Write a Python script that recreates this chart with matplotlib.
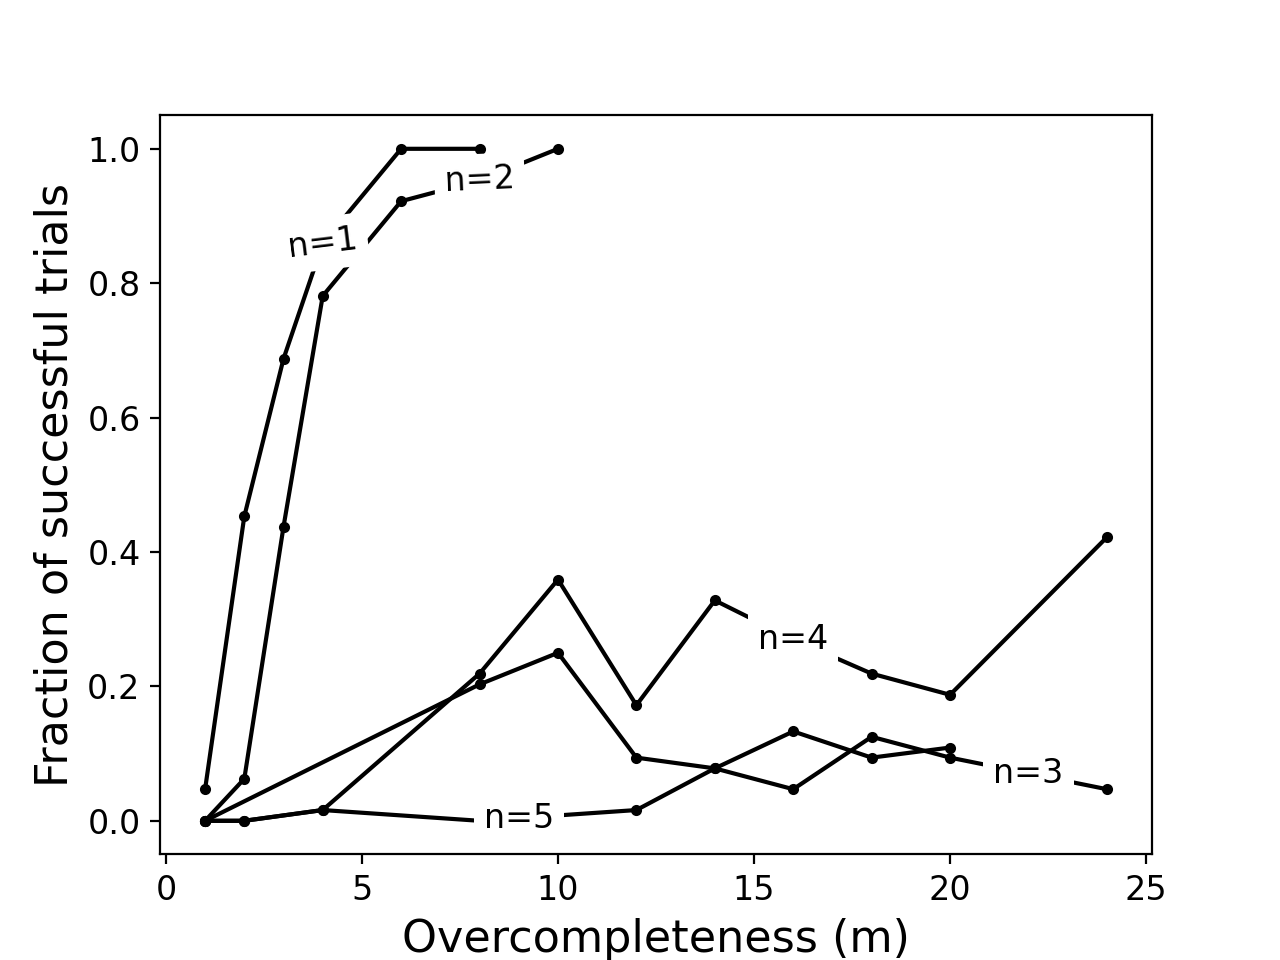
import numpy as np
import matplotlib
matplotlib.use("Agg")
import matplotlib.pyplot as plt

# Fraction of successful trials vs overcompleteness, one curve per n
m_n1 = [1, 2, 3, 4, 6, 8]
f_n1 = [0.047, 0.453, 0.6875, 0.859, 1.0, 1.0]

m_n2 = [1, 2, 3, 4, 6, 8, 10]
f_n2 = [0.0, 0.0625, 0.4375, 0.781, 0.922, 0.953, 1.0]

m_n3 = [1, 8, 10, 12, 14, 16, 18, 20, 24]
f_n3 = [0.0, 0.203, 0.25, 0.094, 0.078, 0.047, 0.125, 0.094, 0.047]

m_n4 = [1, 2, 4, 8, 10, 12, 14, 16, 18, 20, 24]
f_n4 = [0.0, 0.0, 0.016, 0.219, 0.359, 0.172, 0.328, 0.27, 0.219, 0.1875, 0.422]

m_n5 = [1, 2, 4, 8, 12, 14, 16, 18, 20]
f_n5 = [0.0, 0.0, 0.016, 0.0, 0.016, 0.078, 0.133, 0.094, 0.109]

series = [
    ("n=1", m_n1, f_n1),
    ("n=2", m_n2, f_n2),
    ("n=3", m_n3, f_n3),
    ("n=4", m_n4, f_n4),
    ("n=5", m_n5, f_n5),
]

# inline label position (x) and rotation, roughly as in the original
label_x = {"n=1": 4.0, "n=2": 8.0, "n=3": 22.0, "n=4": 16.0, "n=5": 9.0}
label_rot = {"n=1": 7, "n=2": 2.5, "n=3": 0, "n=4": 0, "n=5": 0}

fig, ax = plt.subplots(figsize=(6.4, 4.8), dpi=200)

for name, m, f in series:
    ax.plot(m, f, 'k.-', label=name)
    lx = label_x[name]
    ly = np.interp(lx, m, f)
    ax.text(lx, ly, name, fontsize=12, ha='center', va='center',
            rotation=label_rot[name], zorder=5,
            bbox=dict(boxstyle='square,pad=0.3', fc='white', ec='none'))

ax.set_xlabel("Overcompleteness (m)", fontsize=16)
ax.set_ylabel("Fraction of successful trials", fontsize=16)
ax.tick_params(labelsize=12)

plt.savefig("out.png")
